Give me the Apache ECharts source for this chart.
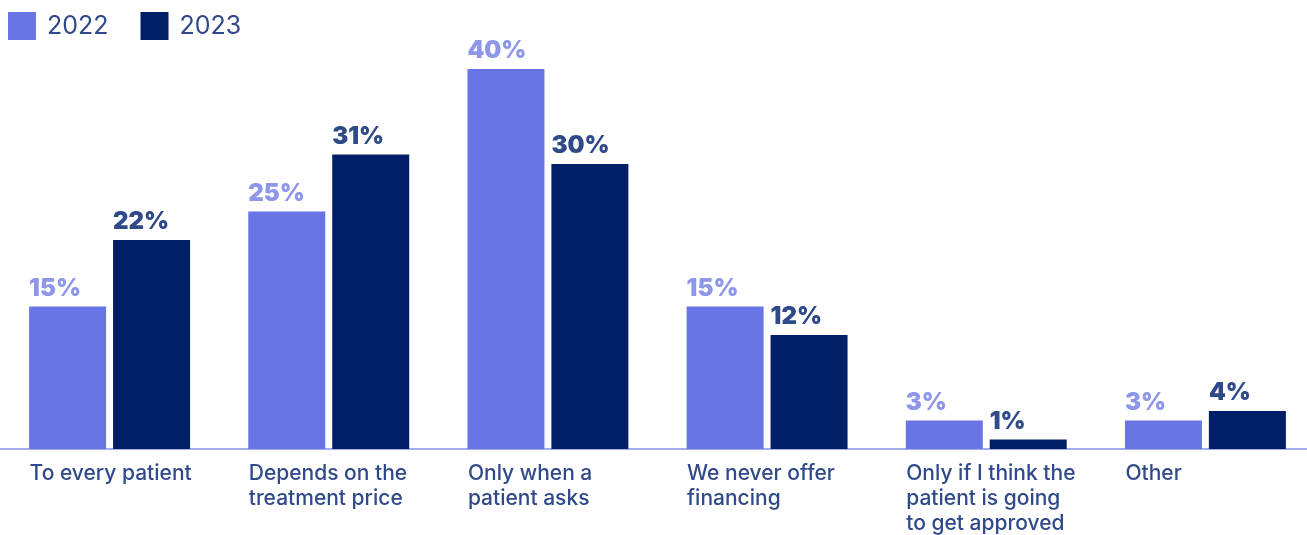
<!DOCTYPE html>
<html>
<head>
<meta charset="utf-8">
<script src="https://cdn.jsdelivr.net/npm/echarts@6/dist/echarts.min.js"></script>
<style>
  html, body { margin: 0; padding: 0; background: #ffffff; }
  #chart { width: 1307px; height: 535px; }
</style>
</head>
<body>
<div id="chart"></div>
<script>
// How clinics offer patient financing, share of respondents by year
const categories = [
  'To every patient',
  'Depends on the\ntreatment price',
  'Only when a\npatient asks',
  'We never offer\nfinancing',
  'Only if I think the\npatient is going\nto get approved',
  'Other'
];
const seriesNames = ['2022', '2023'];
const values2022 = [15, 25, 40, 15, 3, 3];
const values2023 = [22, 31, 30, 12, 1, 4];

const FONT = 'Inter, "Noto Sans", sans-serif';
const barColors = ['#6975e4', '#001f66'];
const labelColors = ['#8e96ea', '#2e4a88'];
const textColor = '#30498a';

function makeSeries(name, data, idx) {
  return {
    name: name,
    type: 'bar',
    data: data,
    barWidth: 77,
    barGap: '9%',
    itemStyle: { color: barColors[idx] },
    label: {
      show: true,
      position: [0, -6],
      align: 'left',
      verticalAlign: 'bottom',
      formatter: '{c}%',
      fontFamily: FONT,
      fontWeight: 900,
      fontSize: 24,
      color: labelColors[idx]
    },
    emphasis: { disabled: true }
  };
}

const chart = echarts.init(document.getElementById('chart'), null, { renderer: 'canvas' });
chart.setOption({
  animation: false,
  legend: {
    left: 3,
    top: 7,
    itemWidth: 28,
    itemHeight: 28,
    itemGap: 32,
    icon: 'rect',
    data: seriesNames,
    textStyle: {
      fontFamily: FONT,
      fontSize: 25,
      color: textColor,
      padding: [0, 0, 0, 6]
    }
  },
  grid: { left: 0, width: 1315, top: 12, bottom: 86, outerBoundsMode: 'none', containLabel: false },
  xAxis: {
    type: 'category',
    data: categories,
    axisLine: { show: true, lineStyle: { color: '#a6acf0', width: 2 } },
    axisTick: { show: false },
    axisLabel: {
      interval: 0,
      align: 'left',
      margin: 12,
      padding: [0, 0, 0, -80],
      fontFamily: FONT,
      fontSize: 21,
      fontWeight: 500,
      lineHeight: 25,
      color: textColor
    }
  },
  yAxis: {
    type: 'value',
    min: 0,
    max: 46,
    show: false,
    splitLine: { show: false }
  },
  series: [
    makeSeries(seriesNames[0], values2022, 0),
    makeSeries(seriesNames[1], values2023, 1)
  ]
});
</script>
</body>
</html>
